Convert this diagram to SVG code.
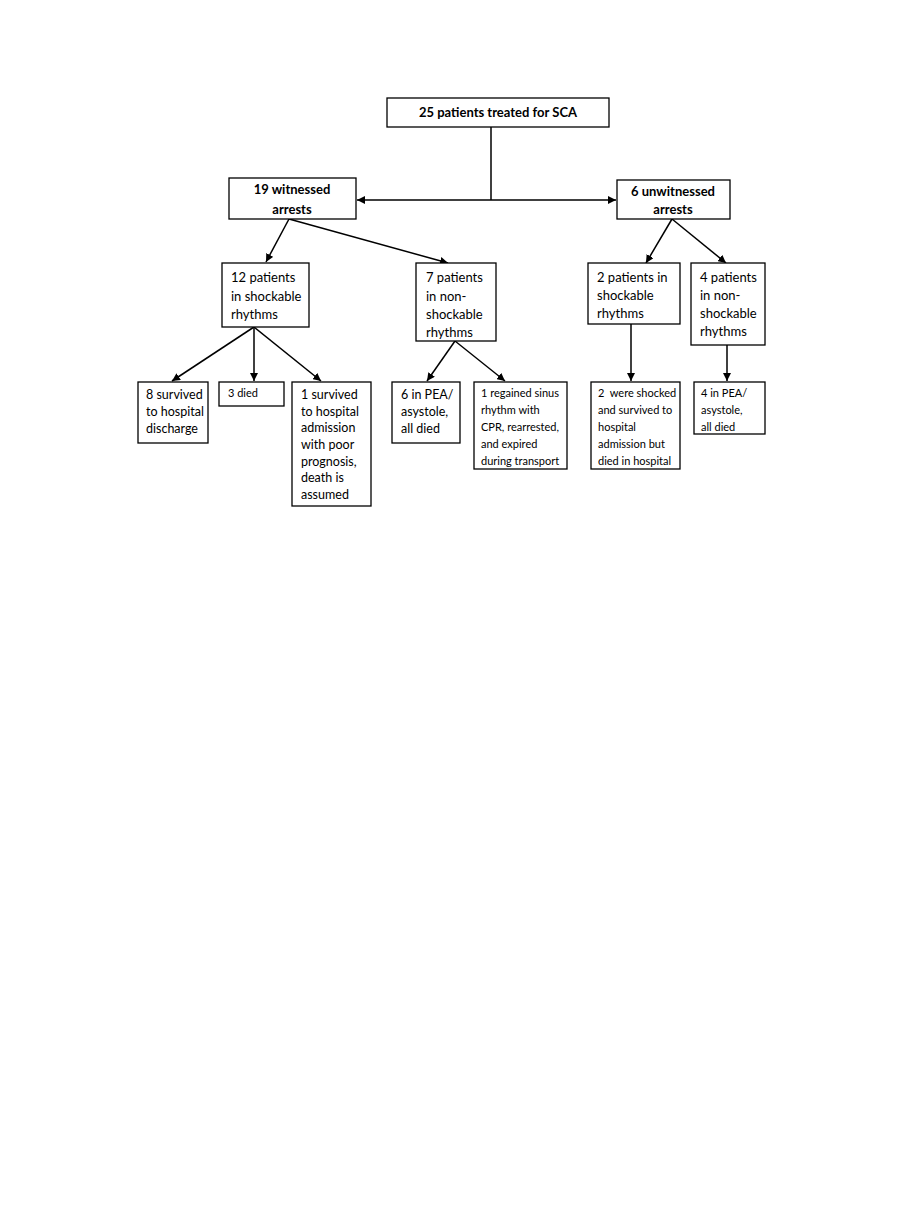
<svg xmlns="http://www.w3.org/2000/svg" width="918" height="1216" viewBox="0 0 918 1216">
<style>
.box{fill:#fff;stroke:#000;stroke-width:1.3}
.t{font-family:Lato,"Liberation Sans",sans-serif;font-size:13px;fill:#000}
.b{font-weight:bold;text-anchor:middle}
.s{font-size:11px}
.m{font-size:12.5px}
.c{stroke:#000;stroke-width:1.5;fill:none}
</style>
<defs>
<marker id="ah" viewBox="0 0 10 10" refX="10" refY="5" markerWidth="8" markerHeight="8" markerUnits="userSpaceOnUse" orient="auto-start-reverse">
<path d="M0,0 L10,5 L0,10 z" fill="#000"/>
</marker>
</defs>
<rect width="918" height="1216" fill="#fff"/>
<g id="connectors">
<line class="c" x1="491" y1="127" x2="491" y2="200"/>
<line class="c" x1="357" y1="200" x2="616" y2="200" marker-start="url(#ah)" marker-end="url(#ah)"/>
<line class="c" x1="289" y1="219" x2="266" y2="262" marker-end="url(#ah)"/>
<line class="c" x1="289" y1="219" x2="448" y2="263" marker-end="url(#ah)"/>
<line class="c" x1="672" y1="219" x2="646" y2="263" marker-end="url(#ah)"/>
<line class="c" x1="672" y1="219" x2="726" y2="263" marker-end="url(#ah)"/>
<line class="c" x1="254" y1="327" x2="172" y2="381" marker-end="url(#ah)"/>
<line class="c" x1="254" y1="327" x2="254" y2="381" marker-end="url(#ah)"/>
<line class="c" x1="254" y1="327" x2="321" y2="381" marker-end="url(#ah)"/>
<line class="c" x1="455" y1="341" x2="427" y2="381" marker-end="url(#ah)"/>
<line class="c" x1="455" y1="341" x2="505" y2="381" marker-end="url(#ah)"/>
<line class="c" x1="631" y1="324" x2="631" y2="381" marker-end="url(#ah)"/>
<line class="c" x1="727" y1="345" x2="727" y2="381" marker-end="url(#ah)"/>
</g>
<g id="n-root">
<rect class="box" x="387" y="98" width="222" height="29"/>
<text class="t b" x="498" y="117">25 patients treated for SCA</text>
</g>
<g id="n-witnessed">
<rect class="box" x="229" y="178" width="127" height="41"/>
<text class="t b" x="292" y="194">19 witnessed</text>
<text class="t b" x="292" y="214">arrests</text>
</g>
<g id="n-unwitnessed">
<rect class="box" x="617" y="180" width="113" height="39"/>
<text class="t b" x="673" y="196">6 unwitnessed</text>
<text class="t b" x="673" y="214">arrests</text>
</g>
<g id="n-w-shock">
<rect class="box" x="222" y="263" width="87" height="64"/>
<text class="t" x="231" y="282">12 patients</text>
<text class="t" x="231" y="301">in shockable</text>
<text class="t" x="231" y="319">rhythms</text>
</g>
<g id="n-w-nonshock">
<rect class="box" x="416" y="263" width="80" height="78"/>
<text class="t" x="426" y="282">7 patients</text>
<text class="t" x="426" y="301">in non-</text>
<text class="t" x="426" y="319">shockable</text>
<text class="t" x="426" y="337">rhythms</text>
</g>
<g id="n-u-shock">
<rect class="box" x="588" y="263" width="92" height="61"/>
<text class="t" x="597" y="282">2 patients in</text>
<text class="t" x="597" y="300">shockable</text>
<text class="t" x="597" y="318">rhythms</text>
</g>
<g id="n-u-nonshock">
<rect class="box" x="691" y="263" width="74" height="82"/>
<text class="t" x="700" y="282">4 patients</text>
<text class="t" x="700" y="300">in non-</text>
<text class="t" x="700" y="318">shockable</text>
<text class="t" x="700" y="336">rhythms</text>
</g>
<g id="n-survived">
<rect class="box" x="138" y="382" width="70" height="61"/>
<text class="t m" x="146" y="399">8 survived</text>
<text class="t m" x="146" y="416">to hospital</text>
<text class="t m" x="146" y="433">discharge</text>
</g>
<g id="n-died">
<rect class="box" x="219" y="382" width="65" height="24"/>
<text class="t s" x="228" y="397">3 died</text>
</g>
<g id="n-assumed">
<rect class="box" x="292" y="382" width="79" height="124"/>
<text class="t m" x="301" y="399">1 survived</text>
<text class="t m" x="301" y="416">to hospital</text>
<text class="t m" x="301" y="432">admission</text>
<text class="t m" x="301" y="449">with poor</text>
<text class="t m" x="301" y="466">prognosis,</text>
<text class="t m" x="301" y="482">death is</text>
<text class="t m" x="301" y="499">assumed</text>
</g>
<g id="n-pea-w">
<rect class="box" x="392" y="382" width="68" height="61"/>
<text class="t m" x="401" y="399">6 in PEA/</text>
<text class="t m" x="401" y="416">asystole,</text>
<text class="t m" x="401" y="433">all died</text>
</g>
<g id="n-regained">
<rect class="box" x="474" y="382" width="93" height="87"/>
<text class="t s" x="481" y="397">1 regained sinus</text>
<text class="t s" x="481" y="414">rhythm with</text>
<text class="t s" x="481" y="431">CPR, rearrested,</text>
<text class="t s" x="481" y="448">and expired</text>
<text class="t s" x="481" y="465">during transport</text>
</g>
<g id="n-shocked">
<rect class="box" x="591" y="382" width="89" height="87"/>
<text class="t s" x="598" y="397" xml:space="preserve">2  were shocked</text>
<text class="t s" x="598" y="414">and survived to</text>
<text class="t s" x="598" y="431">hospital</text>
<text class="t s" x="598" y="448">admission but</text>
<text class="t s" x="598" y="465">died in hospital</text>
</g>
<g id="n-pea-u">
<rect class="box" x="694" y="382" width="71" height="52"/>
<text class="t s" x="701" y="397">4 in PEA/</text>
<text class="t s" x="701" y="414">asystole,</text>
<text class="t s" x="701" y="431">all died</text>
</g>
</svg>
